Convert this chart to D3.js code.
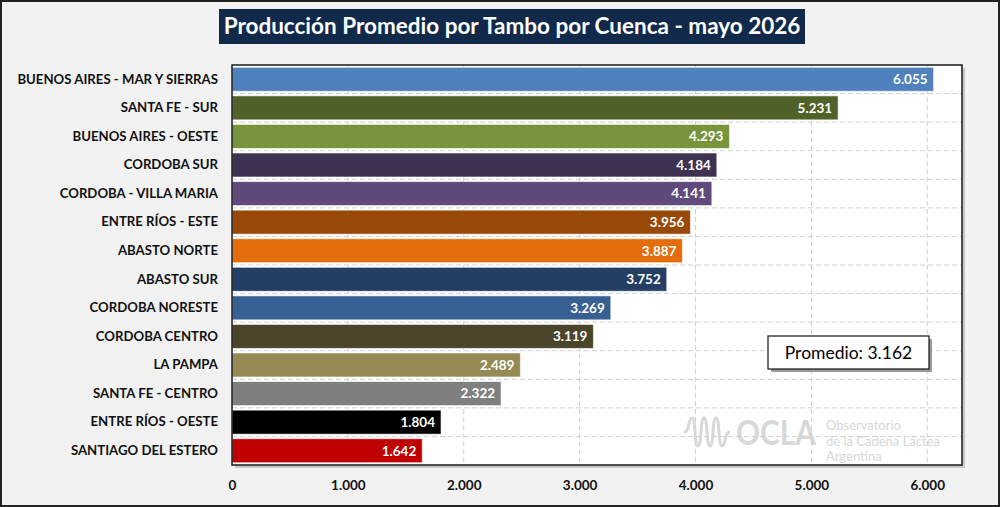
<!DOCTYPE html>
<html>
<head>
<meta charset="utf-8">
<script src="https://cdn.jsdelivr.net/npm/d3@7"></script>
<style>
  body { margin: 0; background: #f2f2f2; }
  svg { display: block; font-family: Lato, "Open Sans", sans-serif; }
</style>
</head>
<body>
<div id="chart"></div>
<script>
const width = 1000,
  height = 507;

const cuencas = [
  'BUENOS AIRES - MAR Y SIERRAS',
  'SANTA FE - SUR',
  'BUENOS AIRES - OESTE',
  'CORDOBA SUR',
  'CORDOBA - VILLA MARIA',
  'ENTRE RÍOS - ESTE',
  'ABASTO NORTE',
  'ABASTO SUR',
  'CORDOBA NORESTE',
  'CORDOBA CENTRO',
  'LA PAMPA',
  'SANTA FE - CENTRO',
  'ENTRE RÍOS - OESTE',
  'SANTIAGO DEL ESTERO'
];
const litros = [6055, 5231, 4293, 4184, 4141, 3956, 3887, 3752, 3269, 3119, 2489, 2322, 1804, 1642];
const colores = [
  '#4f81bd', '#4f6228', '#77933c', '#3f3151', '#604a7b', '#984807', '#e46c0a',
  '#243f63', '#376092', '#4a452a', '#948a54', '#7f7f7f', '#000000', '#c00000'
];
const ticks = [0, 1000, 2000, 3000, 4000, 5000, 6000];
const promedio = 3162;
const titulo = 'Producción Promedio por Tambo por Cuenca - mayo 2026';

const data = cuencas.map((c, i) => ({ cuenca: c, valor: litros[i], color: colores[i] }));

const plot = { left: 232, right: 962, top: 65, bottom: 465 };

const fmt = (v) => d3.format(',')(v).replace(/,/g, '.');

const svg = d3
  .select('#chart')
  .append('svg')
  .attr('width', width)
  .attr('height', height);

// outer frame
svg
  .append('rect')
  .attr('x', 1)
  .attr('y', 1)
  .attr('width', width - 2)
  .attr('height', height - 2)
  .attr('fill', '#f2f2f2')
  .attr('stroke', '#222')
  .attr('stroke-width', 2);

// title
svg
  .append('rect')
  .attr('x', 219)
  .attr('y', 9)
  .attr('width', 586)
  .attr('height', 35)
  .attr('fill', '#112a4b');
svg
  .append('text')
  .attr('x', 512)
  .attr('y', 34)
  .attr('text-anchor', 'middle')
  .attr('fill', 'white')
  .attr('font-weight', 'bold')
  .attr('font-size', 22.5)
  .text(titulo);

let x = d3.scaleLinear().domain([0, 6300]).range([plot.left, plot.right]);
let y = d3
  .scaleBand()
  .domain(cuencas)
  .range([plot.top, plot.bottom])
  .paddingInner(0.16)
  .paddingOuter(0.08);

// plot area shadow + background
svg
  .append('rect')
  .attr('x', plot.left + 3)
  .attr('y', plot.top + 3)
  .attr('width', plot.right - plot.left)
  .attr('height', plot.bottom - plot.top)
  .attr('fill', '#c8c8c8');
svg
  .append('rect')
  .attr('x', plot.left)
  .attr('y', plot.top)
  .attr('width', plot.right - plot.left)
  .attr('height', plot.bottom - plot.top)
  .attr('fill', 'white');

// grid
const grid = svg.append('g').attr('stroke', '#d0d0d0').attr('stroke-dasharray', '5,3');
grid
  .selectAll('line.v')
  .data(ticks.slice(1))
  .join('line')
  .attr('x1', (d) => x(d))
  .attr('x2', (d) => x(d))
  .attr('y1', plot.top)
  .attr('y2', plot.bottom);
grid
  .selectAll('line.h')
  .data(cuencas.slice(1))
  .join('line')
  .attr('x1', plot.left)
  .attr('x2', plot.right)
  .attr('y1', (d) => y(d) - (y.step() - y.bandwidth()) / 2)
  .attr('y2', (d) => y(d) - (y.step() - y.bandwidth()) / 2);

// bars
svg
  .append('g')
  .selectAll('rect')
  .data(data)
  .join('rect')
  .attr('x', x(0))
  .attr('y', (d) => y(d.cuenca))
  .attr('width', (d) => x(d.valor) - x(0))
  .attr('height', y.bandwidth())
  .attr('fill', (d) => d.color)
  .attr('stroke', 'rgba(255,255,255,0.6)')
  .attr('stroke-width', 1);

// value labels
svg
  .append('g')
  .selectAll('text')
  .data(data)
  .join('text')
  .attr('x', (d) => x(d.valor) - 6)
  .attr('y', (d) => y(d.cuenca) + y.bandwidth() / 2)
  .attr('dy', '0.36em')
  .attr('text-anchor', 'end')
  .attr('fill', 'white')
  .attr('font-weight', 'bold')
  .attr('font-size', 13.5)
  .text((d) => fmt(d.valor));

// plot frame
svg
  .append('rect')
  .attr('x', plot.left)
  .attr('y', plot.top)
  .attr('width', plot.right - plot.left)
  .attr('height', plot.bottom - plot.top)
  .attr('fill', 'none')
  .attr('stroke', '#1a1a1a')
  .attr('stroke-width', 1.5);

// y axis
let yAxis = (g) =>
  g
    .attr('transform', `translate(${plot.left},0)`)
    .call(d3.axisLeft(y).tickSize(0).tickPadding(14))
    .call((g) => g.select('.domain').remove())
    .call((g) =>
      g
        .selectAll('text')
        .attr('font-family', 'Lato, sans-serif')
        .attr('font-size', 13.2)
        .attr('font-weight', 'bold')
        .attr('fill', '#111')
    );

// x axis
let xAxis = (g) =>
  g
    .attr('transform', `translate(0,${plot.bottom})`)
    .call(d3.axisBottom(x).tickValues(ticks).tickFormat(fmt).tickSize(0).tickPadding(15))
    .call((g) => g.select('.domain').remove())
    .call((g) =>
      g
        .selectAll('text')
        .attr('font-family', 'Lato, sans-serif')
        .attr('font-size', 13.5)
        .attr('font-weight', 'bold')
        .attr('fill', '#111')
    );

svg.append('g').call(yAxis);
svg.append('g').call(xAxis);

// promedio box
const pb = svg.append('g').attr('transform', 'translate(768,336)');
pb.append('rect')
  .attr('x', 3)
  .attr('y', 3)
  .attr('width', 161)
  .attr('height', 33)
  .attr('fill', '#9a9a9a');
pb.append('rect')
  .attr('width', 161)
  .attr('height', 33)
  .attr('fill', 'white')
  .attr('stroke', '#111')
  .attr('stroke-width', 1.2);
pb.append('text')
  .attr('x', 80.5)
  .attr('y', 23)
  .attr('text-anchor', 'middle')
  .attr('font-size', 17.5)
  .attr('fill', '#000')
  .text('Promedio: ' + fmt(promedio));

// watermark
const wm = svg.append('g').attr('fill', '#d4d4d4').attr('opacity', 0.9);
wm.append('path')
  .attr(
    'd',
    'M684,432 C690,432 688,418 692,418 C696,418 694,446 698,446 C702,446 700,418 704,418 C708,418 706,446 710,446 C714,446 712,418 716,418 C720,418 718,446 722,446 C726,446 724,432 730,432'
  )
  .attr('fill', 'none')
  .attr('stroke', '#d4d4d4')
  .attr('stroke-width', 3);
wm.append('text')
  .attr('x', 736)
  .attr('y', 445)
  .attr('font-size', 35)
  .attr('font-weight', 'bold')
  .attr('textLength', 80)
  .attr('lengthAdjust', 'spacingAndGlyphs')
  .text('OCLA');
wm.selectAll('text.sub')
  .data(['Observatorio', 'de la Cadena Láctea', 'Argentina'])
  .join('text')
  .attr('x', 826)
  .attr('y', (d, i) => 430 + i * 15.5)
  .attr('font-size', 13)
  .text((d) => d);
</script>
</body>
</html>
